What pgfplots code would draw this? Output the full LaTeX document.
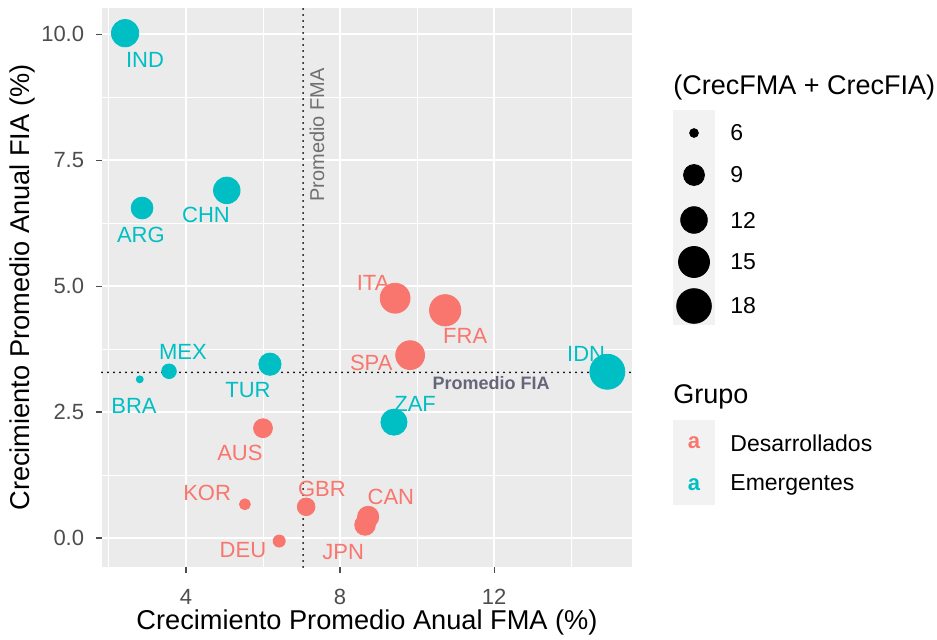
\documentclass[border=0pt]{standalone}
\usepackage{pgfplots}
\usepackage{pgfplotstable}
\pgfplotsset{compat=1.18}
\usepackage{fontspec}
\setmainfont{Liberation Sans}
\definecolor{desC}{HTML}{F8766D}
\definecolor{emeC}{HTML}{00BFC4}
\definecolor{panelbg}{HTML}{EBEBEB}
\definecolor{tickc}{HTML}{4D4D4D}
\definecolor{keybg}{HTML}{F2F2F2}
\definecolor{fmac}{HTML}{707070}
\definecolor{fiac}{HTML}{66667A}
\newcommand\fs[1]{\fontsize{#1}{#1}\selectfont}

% name, CrecFMA (x), CrecFIA (y), suma (tamano), posicion de etiqueta
\pgfplotstableread{
name x y s lx ly
AUS 6.00 2.18 8.18 5.40 1.69
KOR 5.53 0.67 6.20 4.55 0.89
DEU 6.42 -0.06 6.36 5.48 -0.24
GBR 7.12 0.62 7.74 7.53 0.97
JPN 8.65 0.26 8.91 8.08 -0.28
CAN 8.73 0.42 9.15 9.32 0.81
SPA 9.82 3.63 13.45 8.81 3.47
FRA 10.73 4.52 15.25 11.25 4.01
ITA 9.43 4.76 14.19 8.86 5.06
}\desdata

\pgfplotstableread{
name x y s lx ly
IND 2.42 10.02 12.44 2.935 9.48
ARG 2.86 6.55 9.41 2.83 6.01
CHN 5.06 6.90 11.96 4.52 6.41
MEX 3.56 3.31 6.87 3.92 3.69
BRA 2.80 3.15 5.95 2.65 2.62
TUR 6.18 3.45 9.63 5.61 2.94
ZAF 9.40 2.30 11.70 9.95 2.66
IDN 14.94 3.30 18.24 14.39 3.65
}\emedata

% legend of sizes (positions in picture pixels)
\pgfplotstableread{
x y s lab
694 506 6 6
694 464 9 9
694 419 12 12
694 377 15 15
694 333 18 18
}\sizeleg

\begin{document}
\begin{tikzpicture}
\useasboundingbox (0,0) rectangle (468.5pt,319.5pt);
\begin{axis}[
  at={(51pt,36pt)}, anchor=south west, scale only axis,
  width=265pt, height=279.5pt,
  xmin=1.82, xmax=15.58, ymin=-0.575, ymax=10.52,
  axis background/.style={fill=panelbg},
  axis line style={draw=none},
  xtick={4,8,12}, xticklabels={4,8,12},
  ytick={0,2.5,5,7.5,10}, yticklabels={0.0,2.5,5.0,7.5,10.0},
  minor xtick={2,6,10,14}, minor ytick={1.25,3.75,6.25,8.75},
  grid=both,
  major grid style={white, line width=1pt},
  minor grid style={white, line width=0.5pt},
  tick align=outside, tick pos=left,
  major tick length=2.75pt, minor tick length=0pt,
  tick style={tickc, line width=0.6pt},
  ticklabel style={font=\fs{11}, text=tickc},
  yticklabel style={anchor=east, inner sep=0pt, xshift=-6pt},
  xticklabel style={anchor=north, inner sep=0pt, yshift=-8pt},
  xlabel={Crecimiento Promedio Anual FMA (\%)},
  ylabel={Crecimiento Promedio Anual FIA (\%)},
  label style={font=\fs{13.6}},
  xlabel style={at={(axis description cs:0.5,-0.0984)}, anchor=center},
  ylabel style={at={(axis description cs:-0.151,0.5)}, anchor=center},
  clip=false,
]
% points
\addplot[scatter, only marks, mark=*,
  scatter/use mapped color={draw=desC, fill=desC},
  visualization depends on={1.75+7*sqrt(max(0,(\thisrow{s}-5.95)/12.29)) \as \rad},
  scatter/@pre marker code/.append style={/tikz/mark size=\rad pt}]
  table[x=x, y=y] \desdata;
\addplot[scatter, only marks, mark=*,
  scatter/use mapped color={draw=emeC, fill=emeC},
  visualization depends on={1.75+7*sqrt(max(0,(\thisrow{s}-5.95)/12.29)) \as \rad},
  scatter/@pre marker code/.append style={/tikz/mark size=\rad pt}]
  table[x=x, y=y] \emedata;
% labels
\addplot[only marks, mark=*, mark size=0pt, mark options={draw=none, fill=none},
  nodes near coords, point meta=explicit symbolic,
  nodes near coords style={anchor=center, inner sep=0pt, text=desC, font=\fs{11}}]
  table[x=lx, y=ly, meta=name] \desdata;
\addplot[only marks, mark=*, mark size=0pt, mark options={draw=none, fill=none},
  nodes near coords, point meta=explicit symbolic,
  nodes near coords style={anchor=center, inner sep=0pt, text=emeC, font=\fs{11}}]
  table[x=lx, y=ly, meta=name] \emedata;
% averages
\addplot[black, line width=1pt, line cap=round, dash pattern=on 0pt off 3pt] coordinates {(7.04,-0.575) (7.04,10.52)};
\addplot[black, line width=1pt, line cap=round, dash pattern=on 0pt off 3pt] coordinates {(1.82,3.29) (15.58,3.29)};
\node[rotate=90, text=fmac, font=\fs{10}, inner sep=0pt] at (axis cs:7.40,8.0) {Promedio FMA};
\node[text=fiac, font=\bfseries\fs{9}, inner sep=0pt] at (axis cs:11.92,3.08) {Promedio FIA};
\end{axis}

% legend axis in pixel units
\begin{axis}[
  at={(0pt,0pt)}, anchor=south west, scale only axis,
  width=468.5pt, height=319.5pt,
  xmin=0, xmax=937, ymin=0, ymax=639,
  hide axis, clip=false,
]
\fill[keybg] (axis cs:673,314) rectangle (axis cs:715,529);
\fill[keybg] (axis cs:673,134) rectangle (axis cs:715,219);
\addplot[scatter, only marks, mark=*,
  scatter/use mapped color={draw=black, fill=black},
  visualization depends on={1.75+7*sqrt(max(0,(\thisrow{s}-5.95)/12.29)) \as \rad},
  scatter/@pre marker code/.append style={/tikz/mark size=\rad pt}]
  table[x=x, y=y] \sizeleg;
\addplot[only marks, mark=*, mark size=0pt, mark options={draw=none, fill=none},
  nodes near coords, point meta=explicit symbolic,
  nodes near coords style={anchor=west, inner sep=0pt, text=black, font=\fs{11.5}, xshift=18pt}]
  table[x=x, y=y, meta=lab] \sizeleg;
\node[anchor=west, inner sep=0pt, font=\fs{13.5}] at (axis cs:673,551) {(CrecFMA + CrecFIA)};
\node[anchor=west, inner sep=0pt, font=\fs{13.5}] at (axis cs:673,242) {Grupo};
\node[inner sep=0pt, font=\bfseries\fs{11}, text=desC] at (axis cs:694,196) {a};
\node[inner sep=0pt, font=\bfseries\fs{11}, text=emeC] at (axis cs:694,154) {a};
\node[anchor=west, inner sep=0pt, font=\fs{11.5}] at (axis cs:730,196) {Desarrollados};
\node[anchor=west, inner sep=0pt, font=\fs{11.5}] at (axis cs:730,154) {Emergentes};
\end{axis}
\end{tikzpicture}
\end{document}
